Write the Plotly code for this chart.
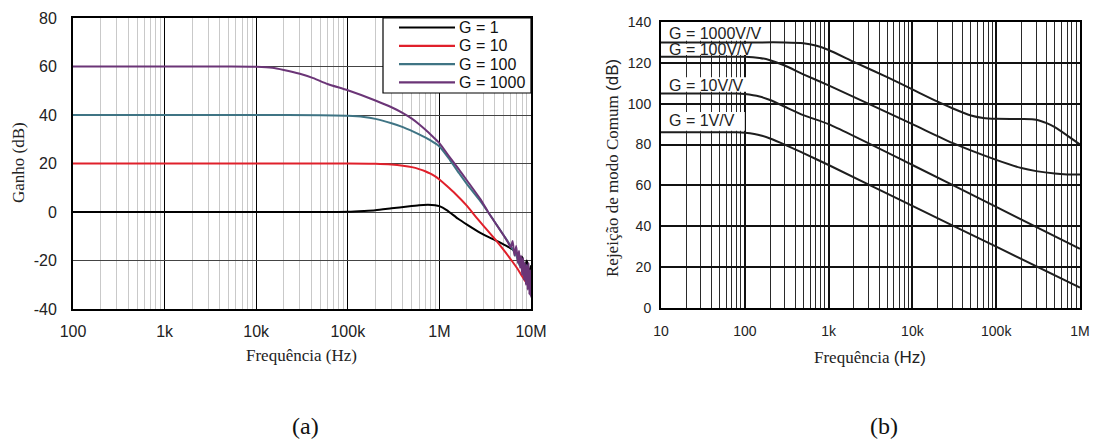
import plotly.graph_objects as go

# ---------------- (a) closed-loop gain vs frequency ----------------
freq_g1 = [1e2, 1e3, 1e4, 5e4, 1e5, 1.5e5, 2e5, 3e5, 4.5e5, 6e5, 7.5e5, 9e5, 1e6, 1.2e6,
           1.6e6, 2e6, 2.8e6, 3.5e6, 4.4e6, 5.4e6, 6.4e6, 7e6, 7.5e6, 8e6, 8.5e6, 9e6, 9.5e6, 1e7]
gain_g1 = [0, 0, 0, 0, 0.1, 0.4, 0.7, 1.5, 2.3, 2.8, 3.0, 2.8, 2.4, 0.8,
           -2.8, -5.2, -8.6, -10.5, -12.2, -14.0, -15.6, -17.0, -20.0, -18.5, -23.0, -20.0, -25.0, -22.0]

freq_g10 = [1e2, 1e3, 1e4, 1e5, 2e5, 3e5, 4e5, 5e5, 6e5, 7e5, 8e5, 9e5, 1e6, 1.2e6, 1.5e6,
            2e6, 2.5e6, 3e6, 4e6, 5e6, 6e6, 7e6, 8e6, 9e6, 1e7]
gain_g10 = [20, 20, 20, 20, 19.9, 19.6, 19.1, 18.5, 17.7, 16.8, 15.8, 14.7, 13.4, 10.8, 7.4,
            2.5, -2.0, -5.5, -11.0, -15.5, -19.5, -23.0, -26.5, -29.5, -32.0]

freq_g100 = [1e2, 1e3, 1e4, 5e4, 1e5, 1.5e5, 2e5, 3e5, 4e5, 6e5, 8e5, 1e6, 1.3e6, 1.64e6, 2e6,
             2.8e6, 3.4e6, 4e6, 5e6, 6e6, 7e6, 7.5e6, 8e6, 8.5e6, 9e6, 9.5e6, 1e7]
gain_g100 = [40, 40, 40, 39.9, 39.7, 39.2, 38.4, 36.6, 35.0, 32.0, 29.5, 27.0, 21.5, 16.0, 11.5,
             4.5, 0, -4.0, -9.5, -14.0, -18.5, -22.0, -20.0, -25.0, -22.0, -28.0, -30.0]

freq_g1000 = [1e2, 1e3, 5e3, 1e4, 1.5e4, 2e4, 3e4, 4.2e4, 6e4, 1e5, 2e5, 3e5, 4e5, 5e5, 6e5, 7e5,
              8.5e5, 1e6, 1.3e6, 1.64e6, 2e6, 2.8e6, 3.4e6, 4e6, 5e6, 5.6e6, 6e6, 6.3e6, 6.6e6,
              6.9e6, 7.2e6, 7.4e6, 7.6e6, 7.8e6, 8e6, 8.2e6, 8.4e6, 8.6e6, 8.8e6, 9e6, 9.2e6,
              9.4e6, 9.6e6, 9.8e6, 1e7, 1e7]
gain_g1000 = [60, 60, 60, 59.9, 59.5, 58.6, 57.0, 55.2, 52.8, 50.2, 46.0, 43.2, 40.8, 38.5, 36.2, 34.0,
              31.0, 28.4, 22.5, 17.5, 13.0, 5.3, 0, -4.0, -9.5, -12.5, -14.5, -12.0, -18.0,
              -14.0, -21.0, -16.0, -23.0, -18.0, -26.0, -19.0, -28.0, -21.0, -30.0, -22.0, -32.0,
              -21.0, -34.0, -24.0, -35.0, -27.0]

# ---------------- (b) common-mode rejection vs frequency ----------------
freq_cm1 = [10, 50, 80, 100, 130, 160, 200, 300, 500, 1e3, 1e4, 1e5, 1e6]
cmrr_cm1 = [86, 86, 86, 85.8, 85.2, 84.3, 83.0, 80.0, 75.8, 70.0, 50.0, 30.0, 10.0]

freq_cm10 = [10, 50, 80, 100, 150, 200, 300, 500, 1e3, 1e4, 1e5, 1e6]
cmrr_cm10 = [105, 105, 105, 104.7, 103.5, 101.8, 98.5, 94.4, 90.0, 70.0, 49.5, 29.0]

freq_cm100 = [10, 50, 100, 150, 200, 300, 500, 1e3, 1e4, 3e4, 1e5, 2e5, 3e5, 5e5, 7e5, 1e6]
cmrr_cm100 = [123, 123, 123, 122.4, 121.3, 118.7, 114.4, 109.0, 90.0, 80.8, 72.5, 68.5, 67.0, 65.8, 65.4, 65.3]

freq_cm1000 = [10, 100, 300, 500, 700, 1e3, 2e3, 5e3, 1e4, 2e4, 3e4, 5e4, 7e4, 1e5, 2e5, 3e5,
               4e5, 5e5, 7e5, 1e6]
cmrr_cm1000 = [130, 130, 130, 129.6, 128.5, 126.3, 120.5, 113.0, 107.0, 101.0, 97.8, 94.2, 93.0,
               92.6, 92.5, 92.2, 90.5, 88.5, 84.5, 80.0]

# ---------------- labels and ticks ----------------
gain_labels = ["G = 1", "G = 10", "G = 100", "G = 1000"]
gain_ticks = [-40, -20, 0, 20, 40, 60, 80]
gain_tick_text = ["-40", "-20", "0", "20", "40", "60", "80"]
freq_ticks_a = [1e2, 1e3, 1e4, 1e5, 1e6, 1e7]
freq_tick_text_a = ["100", "1k", "10k", "100k", "1M", "10M"]
freq_ticks_b = [1e1, 1e2, 1e3, 1e4, 1e5, 1e6]
freq_tick_text_b = ["10", "100", "1k", "10k", "100k", "1M"]
cm_labels = ["G = 1000V/V", "G = 100V/V", "G = 10V/V", "G = 1V/V"]
cm_label_db = [134.6, 126.3, 108.7, 91.6]

gain_colors = ["#000000", "#e0202b", "#3f7484", "#6b3577"]

SANS = "Liberation Sans, Arial, sans-serif"
SERIF = "Liberation Serif, Times New Roman, serif"

fig = go.Figure()

series_a = [(freq_g1, gain_g1), (freq_g10, gain_g10), (freq_g100, gain_g100), (freq_g1000, gain_g1000)]
for (f, g), name, col in zip(series_a, gain_labels, gain_colors):
    fig.add_trace(go.Scatter(x=f, y=g, mode="lines", name=name, showlegend=False,
                             line=dict(color=col, width=2, shape="spline", smoothing=0.6),
                             xaxis="x", yaxis="y"))

series_b = [(freq_cm1000, cmrr_cm1000), (freq_cm100, cmrr_cm100), (freq_cm10, cmrr_cm10), (freq_cm1, cmrr_cm1)]
for f, c in series_b:
    fig.add_trace(go.Scatter(x=f, y=c, mode="lines", showlegend=False,
                             line=dict(color="#1e1e1e", width=2, shape="spline", smoothing=0.6),
                             xaxis="x2", yaxis="y2"))

W, H = 1105, 443
dom_ax = [73 / W, 531 / W]
dom_ay = [1 - 309 / H, 1 - 18 / H]
dom_bx = [661 / W, 1080 / W]
dom_by = [1 - 308 / H, 1 - 22 / H]

common_axis = dict(showline=True, linecolor="black", linewidth=2, mirror=True,
                   ticks="", zeroline=False, automargin=False)

fig.update_layout(
    width=W, height=H,
    margin=dict(l=0, r=0, t=0, b=0),
    paper_bgcolor="white", plot_bgcolor="white",
    showlegend=False,
    xaxis=dict(type="log", range=[2, 7], domain=dom_ax, tickmode="array",
               tickvals=freq_ticks_a, ticktext=freq_tick_text_a,
               showgrid=True, gridcolor="#000000", gridwidth=1.2,
               minor=dict(dtick="D1", showgrid=True, gridcolor="#c9c9c9", gridwidth=1),
               tickfont=dict(family=SANS, size=16, color="#222"), ticklabelstandoff=7,
               anchor="y", **common_axis),
    yaxis=dict(range=[-40, 80], domain=dom_ay, tickmode="array",
               tickvals=gain_ticks, ticktext=gain_tick_text,
               showgrid=True, gridcolor="#444444", gridwidth=1.2,
               tickfont=dict(family=SANS, size=16, color="#222"), ticklabelstandoff=11,
               anchor="x", **common_axis),
    xaxis2=dict(type="log", range=[1, 6], domain=dom_bx, tickmode="array",
                tickvals=freq_ticks_b, ticktext=freq_tick_text_b,
                showgrid=True, gridcolor="#111111", gridwidth=2,
                minor=dict(dtick="D1", showgrid=True, gridcolor="#2a2a2a", gridwidth=1),
                tickfont=dict(family=SANS, size=14, color="#222"), ticklabelstandoff=9,
                anchor="y2", **common_axis),
    yaxis2=dict(range=[0, 140], domain=dom_by, dtick=20,
                showgrid=True, gridcolor="#111111", gridwidth=1.5,
                tickfont=dict(family=SANS, size=14, color="#222"), ticklabelstandoff=5,
                anchor="x2", **common_axis),
)

# legend panel for the gain chart (top-right corner of the plot area)
LEG_X0, LEG_X1, LEG_Y0, LEG_Y1 = 383, 531, 18, 93
LEG_ROW0, LEG_ROW_STEP = 27.5, 18.3
LEG_KEY_X0, LEG_KEY_X1 = 399, 455
fig.add_shape(type="rect", xref="paper", yref="paper",
              x0=LEG_X0 / W, x1=LEG_X1 / W, y0=1 - LEG_Y1 / H, y1=1 - LEG_Y0 / H,
              fillcolor="white", line=dict(color="black", width=1.2), layer="above")
for i, (name, col) in enumerate(zip(gain_labels, gain_colors)):
    ry = LEG_ROW0 + i * LEG_ROW_STEP
    fig.add_shape(type="line", xref="paper", yref="paper",
                  x0=LEG_KEY_X0 / W, x1=LEG_KEY_X1 / W, y0=1 - ry / H, y1=1 - ry / H,
                  line=dict(color=col, width=2.2), layer="above")
    fig.add_annotation(x=(LEG_KEY_X1 + 2) / W, y=1 - ry / H, xref="paper", yref="paper",
                       text=name, showarrow=False, xanchor="left", yanchor="middle",
                       font=dict(family=SANS, size=16, color="#111"))

# white label panels on the CMRR chart (behind the curves, above the grid)
panel_right_hz = [185, 105, 105, 100]
panel_y = [(130.8, 140), (123.8, 129.3), (105.8, 113.0), (86.8, 96.0)]
for xr, (y0, y1) in zip(panel_right_hz, panel_y):
    fig.add_shape(type="rect", xref="x2", yref="y2", x0=10.1, x1=xr, y0=y0, y1=y1,
                  fillcolor="white", line=dict(width=0), layer="between")

for txt, yv in zip(cm_labels, cm_label_db):
    fig.add_annotation(x=1, y=yv, xref="x2", yref="y2", text=txt, showarrow=False,
                       xanchor="left", yanchor="middle", xshift=6,
                       font=dict(family=SANS, size=16, color="#222"))

# axis titles
titles = [
    ("Frequência (Hz)", 302, 355, 0),
    ("Ganho (dB)", 18, 163, -90),
    ("Frequência <span style='font-family:Liberation Sans'>(Hz)</span>", 870, 357, 0),
    ("Rejeição de modo Comum <span style='font-family:Liberation Sans'>(dB)</span>", 612, 168, -90),
]
for txt, px, py, ang in titles:
    fig.add_annotation(x=px / W, y=1 - py / H, xref="paper", yref="paper", text=txt,
                       showarrow=False, xanchor="center", yanchor="middle", textangle=ang,
                       font=dict(family=SERIF, size=17, color="#222"))

for txt, xp in [("(a)", 305 / W), ("(b)", 884 / W)]:
    fig.add_annotation(x=xp, y=1 - 426 / H, xref="paper", yref="paper", text=txt,
                       showarrow=False, xanchor="center", yanchor="middle",
                       font=dict(family=SERIF, size=24, color="#111"))

fig.write_html("out.html")
